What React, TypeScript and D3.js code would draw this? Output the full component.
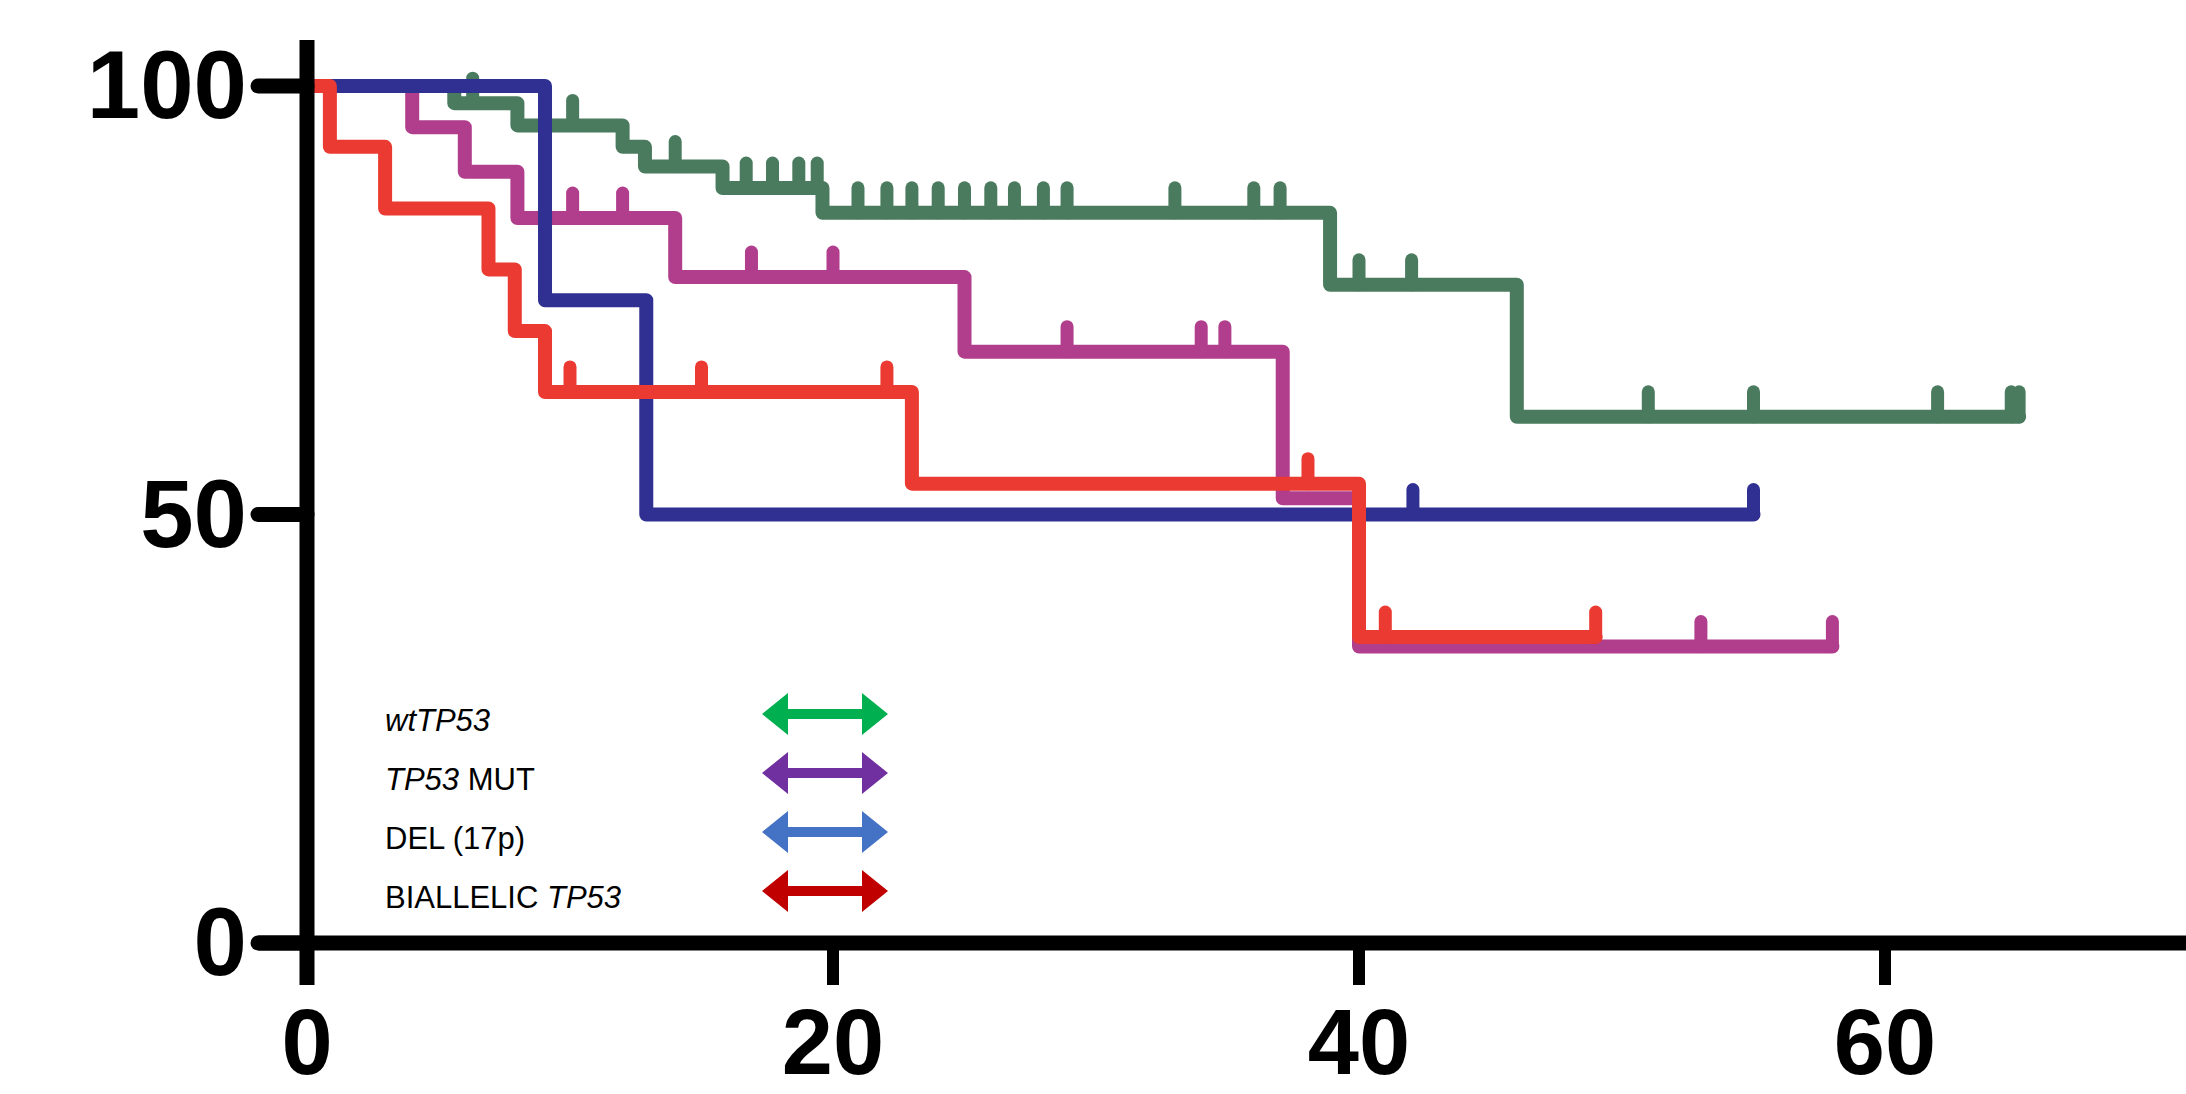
import React from "react";
import * as d3 from "d3";

const W = 2186;
const H = 1094;

// x ticks (months) and y ticks (%)
const X_TICKS = [0, 20, 40, 60];
const Y_TICKS = [0, 50, 100];

// wtTP53 (green)
const GREEN_TIMES = [0, 5.6, 8.0, 12.0, 12.85, 15.8, 19.6, 38.9, 46.0];
const GREEN_VALUES = [100, 98.0, 95.4, 92.9, 90.6, 88.1, 85.2, 76.8, 61.4];
const GREEN_END = 65.1;
const GREEN_CENSORS = [6.3, 10.1, 14.0, 16.7, 17.7, 18.7, 19.4, 20.95, 22.05, 23.0, 24.0, 25.0, 26.0, 26.9, 28.0, 28.9, 33.0, 36.0, 37.0, 40.0, 42.0, 51.0, 55.0, 62.0, 64.8, 65.1];

// TP53 MUT (purple)
const PURPLE_TIMES = [0, 4.0, 6.0, 8.0, 14.0, 25.0, 37.1, 40.0];
const PURPLE_VALUES = [100, 95.2, 90.0, 84.6, 77.7, 69.0, 51.9, 34.6];
const PURPLE_END = 58.0;
const PURPLE_CENSORS = [10.1, 12.0, 16.9, 20.0, 28.9, 34.0, 34.9, 53.0, 58.0];

// DEL (17p) (blue)
const BLUE_TIMES = [0, 9.05, 12.9];
const BLUE_VALUES = [100, 75, 50];
const BLUE_END = 55.0;
const BLUE_CENSORS = [42.05, 55.0];

// BIALLELIC TP53 (red)
const RED_TIMES = [0, 0.87, 2.97, 6.9, 7.9, 9.05, 23.0, 40.0];
const RED_VALUES = [100, 92.9, 85.7, 78.6, 71.4, 64.3, 53.6, 35.7];
const RED_END = 49.0;
const RED_CENSORS = [10.0, 15.0, 22.05, 38.06, 41.0, 49.0];

// legend
const LEGEND_LABELS = [
  [{ t: "wtTP53", i: true }],
  [{ t: "TP53", i: true }, { t: " MUT", i: false }],
  [{ t: "DEL (17p)", i: false }],
  [{ t: "BIALLELIC ", i: false }, { t: "TP53", i: true }],
];
const LEGEND_COLORS = ["#00b050", "#7030a0", "#4472c4", "#c00000"];

const SERIES = [
  { times: GREEN_TIMES, values: GREEN_VALUES, end: GREEN_END, censors: GREEN_CENSORS, color: "#4a7b5f" },
  { times: PURPLE_TIMES, values: PURPLE_VALUES, end: PURPLE_END, censors: PURPLE_CENSORS, color: "#b13d8d" },
  { times: BLUE_TIMES, values: BLUE_VALUES, end: BLUE_END, censors: BLUE_CENSORS, color: "#2f3091" },
  { times: RED_TIMES, values: RED_VALUES, end: RED_END, censors: RED_CENSORS, color: "#ea3a31" },
];

const FONT = "'Liberation Sans', Arial, Helvetica, sans-serif";

function valueAt(times: number[], values: number[], t: number) {
  let v = values[0];
  for (let k = 0; k < times.length; k++) {
    if (times[k] <= t + 1e-9) v = values[k];
  }
  return v;
}

export default function App() {
  const x = d3.scaleLinear().domain([0, 60]).range([307, 1885]);
  const y = d3.scaleLinear().domain([0, 100]).range([943, 86]);
  const line = d3
    .line<[number, number]>()
    .x((d) => x(d[0]))
    .y((d) => y(d[1]))
    .curve(d3.curveStepAfter);

  const axisW = 15;
  const lineW = 14;

  return (
    <div style={{ position: "absolute", left: 0, top: 0, width: W, height: H, background: "#fff" }}>
      <svg width={W} height={H} viewBox={`0 0 ${W} ${H}`} style={{ display: "block" }}>
        <rect x={0} y={0} width={W} height={H} fill="#fff" />
        {/* curves */}
        {SERIES.map((s, si) => {
          const pts: [number, number][] = s.times.map((t, k) => [t, s.values[k]] as [number, number]);
          pts.push([s.end, s.values[s.values.length - 1]]);
          return (
            <g key={si}>
              <path
                d={line(pts) || ""}
                fill="none"
                stroke={s.color}
                strokeWidth={lineW}
                strokeLinejoin="round"
                strokeLinecap="round"
              />
              {s.censors.map((c, ci) => {
                const v = valueAt(s.times, s.values, c);
                return (
                  <line
                    key={ci}
                    x1={x(c)}
                    x2={x(c)}
                    y1={y(v)}
                    y2={y(v) - 25}
                    stroke={s.color}
                    strokeWidth={13}
                    strokeLinecap="round"
                  />
                );
              })}
            </g>
          );
        })}

        {/* axes */}
        <line x1={x(0)} x2={x(0)} y1={40} y2={985} stroke="#000" strokeWidth={axisW} />
        <line x1={258} x2={W} y1={y(0)} y2={y(0)} stroke="#000" strokeWidth={axisW} />
        {Y_TICKS.map((v) => (
          <g key={"yt" + v}>
            <line x1={258} x2={x(0)} y1={y(v)} y2={y(v)} stroke="#000" strokeWidth={axisW} strokeLinecap="round" />
            <text
              x={247}
              y={y(v) + 32}
              textAnchor="end"
              fontFamily={FONT}
              fontWeight="bold"
              fontSize={96}
              fill="#000"
            >
              {v}
            </text>
          </g>
        ))}
        {X_TICKS.map((t) => (
          <g key={"xt" + t}>
            <line x1={x(t)} x2={x(t)} y1={y(0)} y2={985} stroke="#000" strokeWidth={12} />
            <text
              x={x(t)}
              y={1074}
              textAnchor="middle"
              fontFamily={FONT}
              fontWeight="bold"
              fontSize={92}
              fill="#000"
            >
              {t}
            </text>
          </g>
        ))}

        {/* legend */}
        {LEGEND_LABELS.map((segs, i) => {
          const cy = 714 + i * 59;
          const x0 = 762;
          const x1 = 888;
          const hl = 26;
          const hh = 21;
          const sh = 5;
          const poly = [
            [x0, cy],
            [x0 + hl, cy - hh],
            [x0 + hl, cy - sh],
            [x1 - hl, cy - sh],
            [x1 - hl, cy - hh],
            [x1, cy],
            [x1 - hl, cy + hh],
            [x1 - hl, cy + sh],
            [x0 + hl, cy + sh],
            [x0 + hl, cy + hh],
          ]
            .map((p) => p.join(","))
            .join(" ");
          return (
            <g key={"lg" + i}>
              <text x={385} y={cy + 17} fontFamily={FONT} fontSize={31} fill="#000">
                {segs.map((sg, k) => (
                  <tspan key={k} fontStyle={sg.i ? "italic" : "normal"}>
                    {sg.t}
                  </tspan>
                ))}
              </text>
              <polygon points={poly} fill={LEGEND_COLORS[i]} />
            </g>
          );
        })}
      </svg>
    </div>
  );
}
